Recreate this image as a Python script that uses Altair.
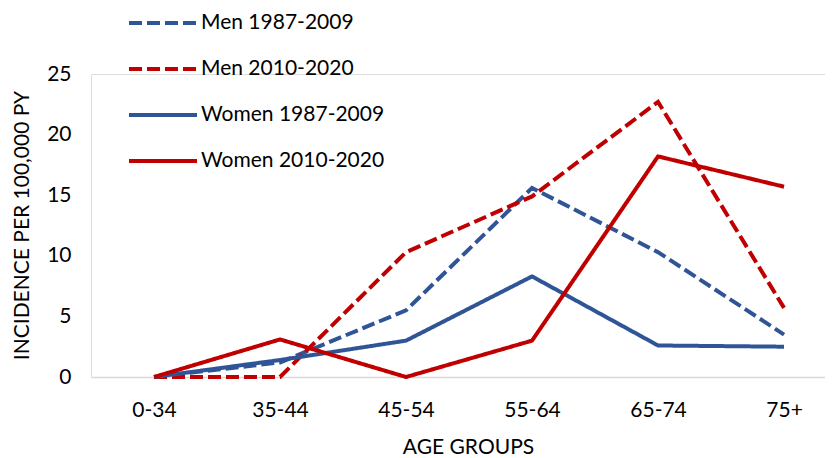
import altair as alt
import pandas as pd

age_groups = ["0-34", "35-44", "45-54", "55-64", "65-74", "75+"]
series = ["Men 1987-2009", "Men 2010-2020", "Women 1987-2009", "Women 2010-2020"]
men_1987_2009 = [0.0, 1.2, 5.5, 15.6, 10.3, 3.5]
men_2010_2020 = [0.0, 0.0, 10.3, 14.9, 22.7, 5.7]
women_1987_2009 = [0.0, 1.4, 3.0, 8.3, 2.6, 2.5]
women_2010_2020 = [0.0, 3.1, 0.0, 3.0, 18.2, 15.7]
y_ticks = [0, 5, 10, 15, 20, 25]

values = [men_1987_2009, men_2010_2020, women_1987_2009, women_2010_2020]
rows = []
for s, vals in zip(series, values):
    for i, (g, v) in enumerate(zip(age_groups, vals)):
        rows.append({"series": s, "idx": i, "group": g, "value": v})
df = pd.DataFrame(rows)

BLUE = "#2F5597"
RED = "#C00000"
FONT = "Lato"

label_expr = "[" + ",".join("'" + g + "'" for g in age_groups) + "][datum.value]"

legend_opts = dict(title=None, orient="none", legendX=36, legendY=-87,
                   symbolType="stroke", symbolSize=4624, symbolStrokeWidth=4,
                   labelFont=FONT, labelFontSize=21, labelColor="#000000",
                   labelOffset=2, labelLimit=400, rowPadding=-15.3, padding=0)

chart = alt.Chart(df).mark_line(strokeWidth=4, clip=False).encode(
    x=alt.X("idx:Q",
            scale=alt.Scale(domain=[-0.5, 5.325], nice=False, zero=False),
            axis=alt.Axis(values=list(range(len(age_groups))), labelExpr=label_expr,
                          title="AGE GROUPS", grid=False, ticks=False,
                          domainColor="#D9D9D9", domainWidth=1.5,
                          labelFont=FONT, labelFontSize=21, labelColor="#000000",
                          labelPadding=22, titleFont=FONT, titleFontSize=21,
                          titleFontWeight="normal", titleColor="#000000",
                          titleX=377, titleY=76, titleAlign="center",
                          titleBaseline="alphabetic")),
    y=alt.Y("value:Q",
            scale=alt.Scale(domain=[0, 25], nice=False),
            axis=alt.Axis(values=y_ticks, title="INCIDENCE PER 100,000 PY", grid=False,
                          ticks=False, domain=False, labelFont=FONT, labelFontSize=21,
                          labelColor="#000000", labelPadding=20, titleFont=FONT,
                          titleFontSize=21, titleFontWeight="normal", titleColor="#000000",
                          titleX=-63, titleY=151, titleAngle=-90,
                          titleBaseline="alphabetic", titleAlign="center")),
    color=alt.Color("series:N", scale=alt.Scale(domain=series, range=[BLUE, RED, BLUE, RED]),
                    legend=alt.Legend(**legend_opts)),
    strokeDash=alt.StrokeDash("series:N",
                              scale=alt.Scale(domain=series,
                                              range=[[13, 5], [13, 5], [1, 0], [1, 0]]),
                              legend=alt.Legend(**legend_opts)),
    detail="series:N",
).properties(
    width=734, height=303,
    autosize=alt.AutoSizeParams(type="none"),
    padding={"left": 83, "top": 66, "right": 0, "bottom": 80},
).configure_view(stroke=None).configure(background="white")

chart.save("out.html", embed_options={"renderer": "svg", "actions": False})
